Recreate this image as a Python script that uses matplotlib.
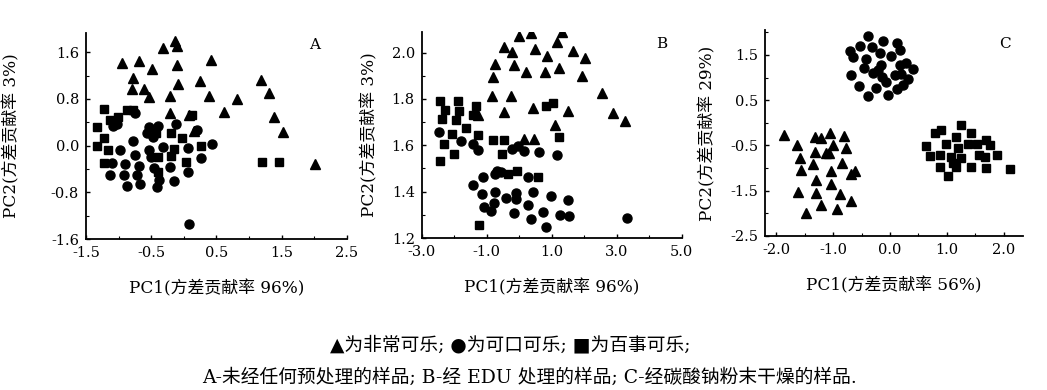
import matplotlib
matplotlib.use("Agg")
import matplotlib.pyplot as plt
from matplotlib.ticker import MultipleLocator, FormatStrFormatter

plt.rcParams['font.family'] = ['DejaVu Serif', 'Noto Sans CJK SC']
plt.rcParams['axes.unicode_minus'] = True

# ---------------- Panel A data ----------------
a_tri_x = [-0.953, -0.683, -0.325, -0.136, -0.11, 0.41, -0.489, -0.785, -0.11, -0.095,
           0.247, -0.8, -0.606, -0.54, -0.213, 0.39, 0.82, 0.615, -0.213, 1.177,
           1.31, 1.38, 1.524, 2.01, 0.084, 0.15]
a_tri_y = [1.41, 1.457, 1.669, 1.8, 1.71, 1.47, 1.31, 1.166, 1.383, 1.057,
           1.114, 0.966, 0.966, 0.84, 0.851, 0.857, 0.794, 0.577, 0.566, 1.126,
           0.897, 0.486, 0.24, -0.32, 0.526, 0.25]
a_sq_x = [-1.224, -1.337, -1.224, -1.326, -1.158, -1.224, -1.132, -0.877, -0.775, -1.004,
          0.119, -0.2, -0.024, 0.262, -0.391, -0.2, 0.027, -0.391, 1.192, 1.463,
          -0.427, -0.15]
a_sq_y = [0.623, 0.326, 0.126, -0.006, -0.074, -0.303, 0.44, 0.611, 0.611, 0.497,
          0.526, 0.211, 0.126, 0.0, -0.189, -0.171, -0.274, -0.446, -0.274, -0.274,
          0.211, -0.06]
a_ci_x = [-1.03, -1.081, -0.749, -0.785, -0.979, -0.749, -1.107, -0.902, -0.683, -1.132,
          -0.913, -0.714, -0.877, -0.672, -0.57, -0.53, -0.391, -0.126, -0.535, -0.509,
          -0.315, -0.458, -0.376, -0.407, -0.213, -0.151, 0.068, 0.068, 0.262, 0.436,
          0.079, 0.196, -0.47]
a_ci_y = [0.37, 0.337, 0.554, 0.08, -0.074, -0.16, -0.291, -0.314, -0.343, -0.509,
          -0.509, -0.509, -0.686, -0.663, 0.211, 0.314, 0.337, 0.366, -0.074, -0.189,
          -0.017, -0.389, -0.589, -0.703, -0.371, -0.611, -0.034, -0.446, -0.217, 0.023,
          -1.343, 0.269, 0.154]

# ---------------- Panel B data ----------------
b_tri_x = [0.0, 0.364, 1.308, -0.467, -0.231, 0.487, 1.154, 1.646, 2.026, 0.846,
           -0.159, -0.744, 0.21, 0.795, 1.236, 1.923, -0.795, -0.846, -0.251, 2.538,
           2.877, 3.256, -0.467, 0.436, 1.513, 1.103, 0.149, 0.456, -1.256]
b_tri_y = [2.071, 2.083, 2.089, 2.024, 2.004, 2.014, 2.047, 2.007, 1.976, 1.986,
           1.947, 1.95, 1.914, 1.914, 1.933, 1.9, 1.893, 1.814, 1.814, 1.824,
           1.739, 1.704, 1.743, 1.761, 1.747, 1.686, 1.627, 1.627, 1.731]
b_sq_x = [-2.436, -1.892, -2.282, -1.841, -2.385, -1.944, -1.636, -1.328, -1.431, -2.077,
          -2.303, -1.995, -2.436, -1.256, -0.815, -0.456, -0.518, -0.056, -0.354, 0.59,
          0.815, 1.051, 1.236, -1.236]
b_sq_y = [1.793, 1.793, 1.753, 1.75, 1.713, 1.707, 1.674, 1.771, 1.731, 1.647,
          1.604, 1.564, 1.531, 1.643, 1.621, 1.621, 1.561, 1.49, 1.474, 1.464,
          1.771, 1.781, 1.636, 1.254]
b_ci_x = [-2.467, -1.8, -1.41, -1.256, -1.41, -1.123, -1.133, -1.082, -0.877, -0.774,
          -0.744, -0.744, -0.672, -0.415, -0.097, -0.108, -0.159, 0.262, 0.354, 0.415,
          0.723, 0.826, 0.979, 1.256, 1.544, 1.513, 3.308, -0.21, -0.046, 0.149,
          0.61, 1.174, 0.282, -0.559]
b_ci_y = [1.657, 1.619, 1.607, 1.579, 1.429, 1.464, 1.39, 1.333, 1.317, 1.35,
          1.4, 1.476, 1.49, 1.371, 1.393, 1.367, 1.31, 1.343, 1.283, 1.4,
          1.314, 1.247, 1.381, 1.3, 1.296, 1.364, 1.286, 1.586, 1.596, 1.576,
          1.571, 1.557, 1.464, 1.486]

# ---------------- Panel C data ----------------
c_tri_x = [-1.871, -1.63, -1.589, -1.326, -1.22, -1.062, -0.815, -0.768, -0.997, -1.12,
           -1.326, -1.56, -1.355, -1.032, -0.839, -0.68, -0.61, -1.296, -1.032, -1.619,
           -1.296, -0.874, -1.208, -0.68, -0.933, -1.472, -1.079]
c_tri_y = [-0.268, -0.489, -0.784, -0.32, -0.342, -0.231, -0.29, -0.563, -0.489, -0.658,
           -0.636, -1.041, -0.909, -1.056, -0.879, -1.13, -1.056, -1.262, -1.351, -1.52,
           -1.542, -1.572, -1.815, -1.727, -1.911, -1.984, -0.673]
c_ci_x = [-0.387, -0.123, 0.123, -0.534, -0.317, -0.71, -0.651, -0.182, 0.023, 0.17,
          -0.428, -0.152, -0.457, -0.299, -0.68, 0.17, 0.287, 0.405, 0.2, 0.082,
          -0.135, -0.065, 0.317, 0.229, 0.123, -0.546, -0.24, -0.387, -0.035, -0.211]
c_ci_y = [1.92, 1.817, 1.758, 1.699, 1.684, 1.596, 1.448, 1.537, 1.478, 1.61,
          1.404, 1.279, 1.205, 1.11, 1.058, 1.279, 1.33, 1.183, 1.08, 1.058,
          1.021, 0.911, 0.962, 0.837, 0.749, 0.815, 0.763, 0.594, 0.616, 1.168]
c_sq_x = [1.255, 0.903, 0.786, 1.431, 1.167, 0.628, 0.991, 1.196, 1.372, 1.531,
          1.683, 1.765, 0.71, 0.886, 1.079, 1.255, 1.566, 1.666, 1.889, 0.874,
          1.167, 1.431, 1.683, 2.106, 1.021, 1.109]
c_sq_y = [-0.047, -0.157, -0.231, -0.216, -0.305, -0.511, -0.467, -0.563, -0.467, -0.467,
          -0.378, -0.489, -0.732, -0.71, -0.747, -0.784, -0.71, -0.762, -0.71, -0.968,
          -0.968, -0.968, -1.005, -1.012, -1.174, -0.895]

# ---------------- Text ----------------
panel_letters = ['A', 'B', 'C']
x_labels = ['PC1(方差贡献率 96%)', 'PC1(方差贡献率 96%)', 'PC1(方差贡献率 56%)']
y_labels = ['PC2(方差贡献率 3%)', 'PC2(方差贡献率 3%)', 'PC2(方差贡献率 29%)']
a_xticks = [-1.5, -0.5, 0.5, 1.5, 2.5]
a_yticks = [-1.6, -0.8, 0.0, 0.8, 1.6]
b_xticks = [-3.0, -1.0, 1.0, 3.0, 5.0]
b_yticks = [1.2, 1.4, 1.6, 1.8, 2.0]
c_xticks = [-2.0, -1.0, 0.0, 1.0, 2.0]
c_yticks = [-2.5, -1.5, -0.5, 0.5, 1.5]
caption1 = '▲为非常可乐; ●为可口可乐; ■为百事可乐;'
caption2 = 'A-未经任何预处理的样品; B-经 EDU 处理的样品; C-经碳酸钠粉末干燥的样品.'

fig = plt.figure(figsize=(10.47, 3.9), dpi=100)
W, H = 1047.0, 390.0

def make_axes(l, r, top, bot):
    return fig.add_axes([l / W, 1 - bot / H, (r - l) / W, (bot - top) / H])

axA = make_axes(86, 347, 33, 239)
axB = make_axes(421.7, 681.7, 31.7, 238)
axC = make_axes(765, 1023, 30, 236)

specs = [
    (axA, (a_tri_x, a_tri_y), (a_ci_x, a_ci_y), (a_sq_x, a_sq_y), a_xticks, a_yticks,
     (-1.5, 2.5), (-1.6, 1.93), 0.5, 0.4, (-0.25, 0.5), (0.877, 0.976)),
    (axB, (b_tri_x, b_tri_y), (b_ci_x, b_ci_y), (b_sq_x, b_sq_y), b_xticks, b_yticks,
     (-3.0, 5.0), (1.2, 2.09), 1.0, 0.1, (-0.168, 0.5), (0.923, 0.976)),
    (axC, (c_tri_x, c_tri_y), (c_ci_x, c_ci_y), (c_sq_x, c_sq_y), c_xticks, c_yticks,
     (-2.2, 2.34), (-2.5, 2.05), 0.5, 0.5, (-0.19, 0.5), (0.93, 0.967)),
]

for i, (ax, tri, ci, sq, xt, yt, xl, yl, xminor, yminor, ylc, letpos) in enumerate(specs):
    ax.plot(tri[0], tri[1], linestyle='none', marker='^', color='black', markersize=7.5)
    ax.plot(ci[0], ci[1], linestyle='none', marker='o', color='black', markersize=6.5)
    ax.plot(sq[0], sq[1], linestyle='none', marker='s', color='black', markersize=5.8)
    ax.set_xlim(*xl)
    ax.set_ylim(*yl)
    ax.set_xticks(xt)
    ax.set_yticks(yt)
    ax.xaxis.set_major_formatter(FormatStrFormatter('%.1f'))
    ax.yaxis.set_major_formatter(FormatStrFormatter('%.1f'))
    ax.xaxis.set_minor_locator(MultipleLocator(xminor))
    ax.yaxis.set_minor_locator(MultipleLocator(yminor))
    ax.spines['top'].set_visible(False)
    ax.spines['right'].set_visible(False)
    ax.spines['left'].set_linewidth(1.3)
    ax.spines['bottom'].set_linewidth(1.3)
    ax.tick_params(which='major', direction='in', length=3, width=1, labelsize=10.5, pad=5)
    ax.tick_params(which='minor', direction='in', length=2, width=0.8)
    ax.set_xlabel(x_labels[i], fontsize=12.2)
    ax.set_ylabel(y_labels[i], fontsize=12.2)
    ax.xaxis.set_label_coords(0.5, -0.2)
    ax.yaxis.set_label_coords(*ylc)
    ax.text(letpos[0], letpos[1], panel_letters[i], transform=ax.transAxes,
            ha='center', va='top', fontsize=11)

fig.text(0.487, 0.115, caption1, ha='center', va='center', fontsize=13.5)
fig.text(0.506, 0.031, caption2, ha='center', va='center', fontsize=13.5)

fig.savefig('out.png', dpi=100, facecolor='white')
